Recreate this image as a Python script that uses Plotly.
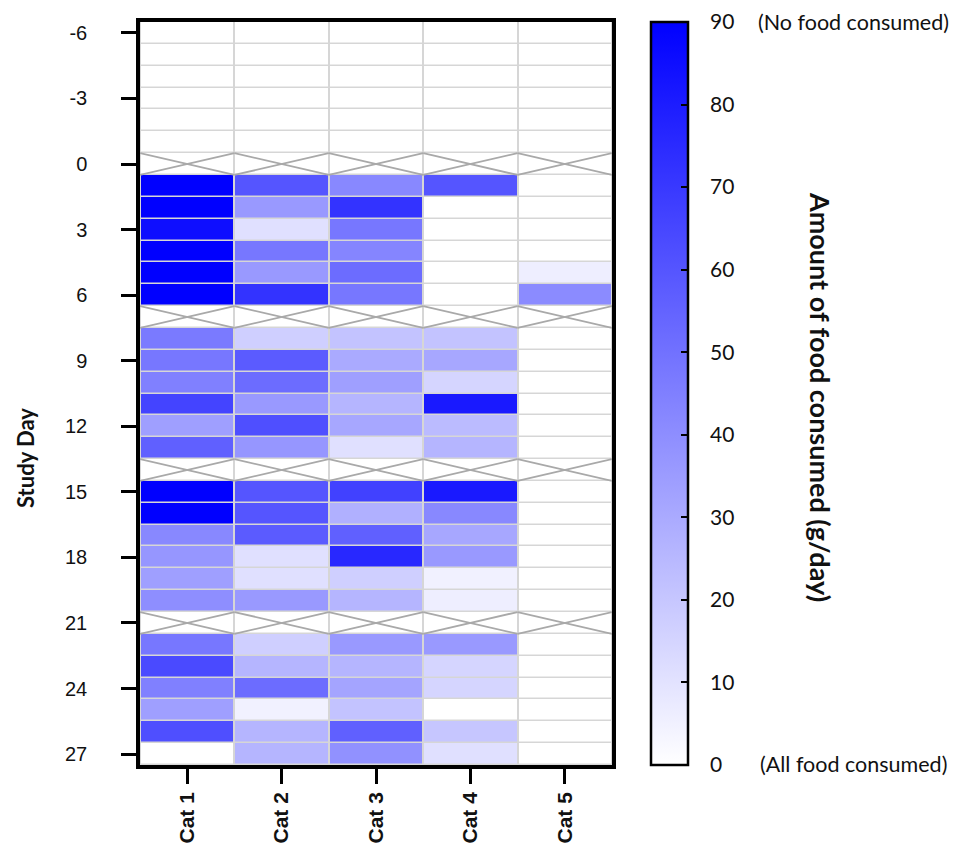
import plotly.graph_objects as go

# ---- data ----
days = list(range(-6, 28))
categories = ["Cat 1", "Cat 2", "Cat 3", "Cat 4", "Cat 5"]
missing_days = [0, 7, 14, 21]
N = None
cat1 = [0, 0, 0, 0, 0, 0, N, 90, 90, 85, 90, 90, 90, N, 47, 48, 45, 66, 34, 56, N, 90, 90, 42, 37, 34, 40, N, 48, 64, 45, 34, 62, 0]
cat2 = [0, 0, 0, 0, 0, 0, N, 60, 36, 11, 48, 36, 72, N, 17, 58, 52, 36, 62, 37, N, 60, 60, 58, 11, 11, 36, N, 17, 26, 52, 5, 26, 26]
cat3 = [0, 0, 0, 0, 0, 0, N, 42, 72, 48, 43, 52, 48, N, 21, 30, 34, 26, 31, 11, N, 67, 28, 56, 76, 17, 26, N, 36, 26, 32, 21, 56, 39]
cat4 = [0, 0, 0, 0, 0, 0, N, 60, 0, 0, 0, 0, 0, N, 21, 31, 15, 81, 24, 26, N, 81, 42, 31, 36, 5, 6, N, 36, 15, 15, 0, 20, 11]
cat5 = [0, 0, 0, 0, 0, 0, N, 0, 0, 0, 0, 6, 41, N, 0, 0, 0, 0, 0, 0, N, 0, 0, 0, 0, 0, 0, N, 0, 0, 0, 0, 0, 0]
series = [cat1, cat2, cat3, cat4, cat5]
y_ticks = list(range(-6, 28, 3))
cbar_ticks = list(range(0, 91, 10))

# build matrix rows=days, cols=categories
xi = list(range(len(categories)))
z = [[series[c][r] for c in xi] for r in range(len(days))]
z_missing = [[1 if d in missing_days else None for _ in xi] for d in days]

# layout geometry (pixels)
W, H = 966, 844
L, R, T, B = 140, 612, 22, 765
pw, ph = R - L, B - T

def px_x(x):
    return (x - L) / pw

def px_y(y):
    return (B - y) / ph

fig = go.Figure()
fig.add_trace(go.Heatmap(
    x=xi, y=days, z=z, zmin=0, zmax=90,
    colorscale=[[0, "#FFFFFF"], [1, "#0000FF"]],
    xgap=2, ygap=1.5, hoverongaps=False,
    colorbar=dict(
        x=px_x(651), xanchor="left", xpad=0, y=0.5, yanchor="middle", ypad=0,
        len=1, lenmode="fraction", thickness=37,
        outlinewidth=2.5, outlinecolor="black",
        tickvals=cbar_ticks, ticktext=["\u00a0\u00a0\u00a0" + str(v) for v in cbar_ticks],
        ticks="inside", ticklen=8, tickwidth=2, tickcolor="black",
        tickfont=dict(family="Lato", size=21, color="#111"),
    ),
))
fig.add_trace(go.Heatmap(
    x=xi, y=days, z=z_missing, zmin=0, zmax=1,
    colorscale=[[0, "#FFFFFF"], [1, "#FFFFFF"]], showscale=False,
    xgap=2, ygap=1.5, hoverinfo="skip",
))

# crossed cells for missing days
xs, ys = [], []
for d in missing_days:
    for i in xi:
        xs += [i - 0.5, i + 0.5, None, i - 0.5, i + 0.5, None]
        ys += [d - 0.5, d + 0.5, None, d + 0.5, d - 0.5, None]
fig.add_trace(go.Scatter(x=xs, y=ys, mode="lines", line=dict(color="#A9A9A9", width=1.8),
                         hoverinfo="skip", showlegend=False))

fig.update_layout(
    width=W, height=H,
    margin=dict(l=L, r=W - R, t=T, b=H - B, autoexpand=False),
    paper_bgcolor="white", plot_bgcolor="#D6D6D6",
    showlegend=False,
    font=dict(family="Liberation Sans", color="#111"),
)
fig.update_xaxes(
    range=[-0.5, 4.5], tickvals=xi, ticktext=["<b>%s</b>" % c for c in categories],
    tickangle=-90, tickfont=dict(family="Liberation Sans", size=21, color="#111"),
    ticks="outside", ticklen=15, tickwidth=3, tickcolor="black",
    showline=True, linewidth=3.5, linecolor="black", mirror=True,
    showgrid=False, zeroline=False, automargin=False,
)
fig.update_yaxes(
    range=[27.5, -6.5], tickvals=y_ticks, ticktext=[str(v) for v in y_ticks],
    tickfont=dict(family="Liberation Sans", size=20, color="#111"),
    ticks="outside", ticklen=15, tickwidth=3, tickcolor="black", ticklabelstandoff=30,
    showline=True, linewidth=3.5, linecolor="black", mirror=True,
    showgrid=False, zeroline=False, automargin=False,
)

fig.add_annotation(text="<b>Study Day</b>", xref="paper", yref="paper",
                   x=px_x(25), y=px_y(458), xanchor="center", yanchor="middle", textangle=-90,
                   showarrow=False, font=dict(family="Lato", size=22, color="#111"))
fig.add_annotation(text="<b>Amount of food consumed (g/day)</b>", xref="paper", yref="paper",
                   x=px_x(821), y=px_y(397), xanchor="center", yanchor="middle", textangle=90,
                   showarrow=False, font=dict(family="Lato", size=27, color="#111"))
fig.add_annotation(text="(No food consumed)", xref="paper", yref="paper",
                   x=px_x(853), y=px_y(22), xanchor="center", yanchor="middle",
                   showarrow=False, font=dict(family="Lato", size=21.5, color="#111"))
fig.add_annotation(text="(All food consumed)", xref="paper", yref="paper",
                   x=px_x(853), y=px_y(764), xanchor="center", yanchor="middle",
                   showarrow=False, font=dict(family="Lato", size=21.5, color="#111"))

fig.write_html("out.html", config={"displayModeBar": False},
               post_script="document.body.style.margin='0';")
